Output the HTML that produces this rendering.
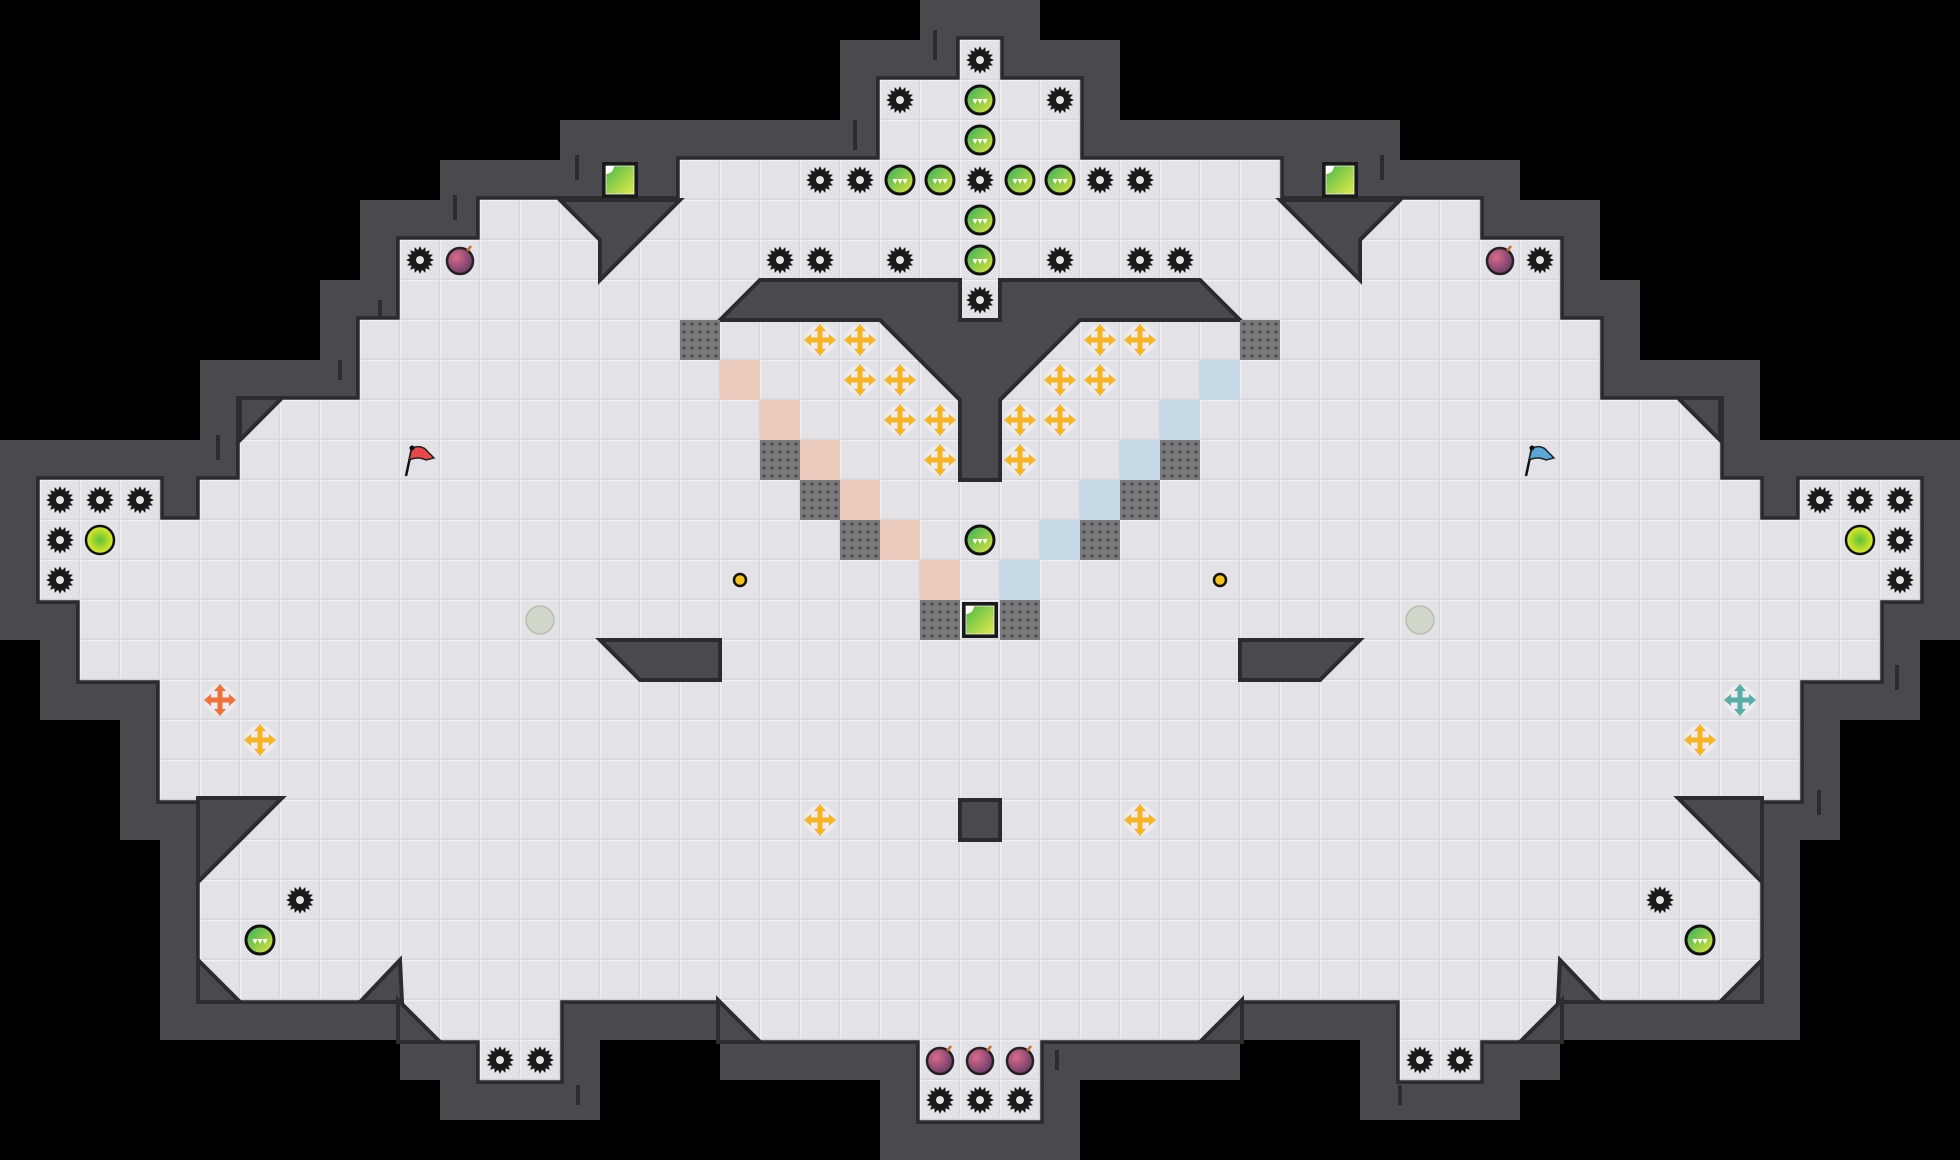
<!DOCTYPE html>
<html><head><meta charset="utf-8">
<style>
html,body{margin:0;padding:0;background:#000;}
svg{display:block;}
</style></head>
<body>
<svg id="s" xmlns="http://www.w3.org/2000/svg" width="1960" height="1160" viewBox="0 0 1960 1160">
<defs>
<linearGradient id="gb" x1="0" y1="0" x2="1" y2="1"><stop offset="0" stop-color="#2fae5a"/><stop offset="1" stop-color="#e6e83a"/></linearGradient>
<linearGradient id="gbox" x1="0" y1="0" x2="1" y2="1"><stop offset="0" stop-color="#4cb848"/><stop offset="1" stop-color="#e0ea4a"/></linearGradient>
<radialGradient id="yb" cx="0.5" cy="0.5" r="0.5"><stop offset="0" stop-color="#5cc040"/><stop offset="1" stop-color="#e4ee20"/></radialGradient>
<radialGradient id="bomb" cx="0.35" cy="0.35" r="0.7"><stop offset="0" stop-color="#d86a8a"/><stop offset="1" stop-color="#6a3a6a"/></radialGradient>
<pattern id="grate" width="8" height="8" patternUnits="userSpaceOnUse"><rect width="8" height="8" fill="#7a7a7c"/><circle cx="4" cy="4" r="1.6" fill="#4a4a4c"/></pattern>
</defs>
<rect width="1960" height="1160" fill="#000"/>
<g id="walls" fill="#4a4a4e"></g>
<g id="outline" fill="#2c2c2f"></g>
<g id="floor"></g>
<g id="inner" fill="#4a4a4e" stroke="#2c2c2f" stroke-width="4" stroke-linejoin="miter"></g>
<g id="items"></g>
</svg>
<script>
const C=40,NS="http://www.w3.org/2000/svg";
function el(p,t,a){const e=document.createElementNS(NS,t);for(const k in a)e.setAttribute(k,a[k]);p.appendChild(e);return e;}
const rows={1:[[24,24]],2:[[22,26]],3:[[22,26]],4:[[17,31]],5:[[12,36]],6:[[10,38]],7:[[10,38]],8:[[9,39]],9:[[9,39]],10:[[6,42]],11:[[6,42]],12:[[1,3],[5,43],[45,47]],13:[[1,47]],14:[[1,47]],15:[[2,46]],16:[[2,46]],17:[[4,44]],18:[[4,44]],19:[[4,44]],20:[[5,43]],21:[[5,43]],22:[[5,43]],23:[[5,43]],24:[[5,43]],25:[[10,13],[18,30],[35,38]],26:[[12,13],[23,25],[35,36]],27:[[23,25]]};
const W=document.getElementById('walls'),O=document.getElementById('outline'),F=document.getElementById('floor'),I=document.getElementById('inner'),IT=document.getElementById('items');
const cells=[];
for(const r in rows)for(const [a,b] of rows[r])for(let c=a;c<=b;c++)cells.push([c,+r]);
cells.concat([[15,4],[33,4]]).forEach(([c,r])=>el(W,'rect',{x:c*C-C,y:r*C-C,width:3*C,height:3*C}));
[[9,26],[17,26],[31,26],[39,26]].forEach(([c,r])=>el(W,'rect',{x:c*C,y:r*C,width:C,height:C,fill:'#000'}));
cells.forEach(([c,r])=>el(O,'rect',{x:c*C-4,y:r*C-4,width:C+8,height:C+8}));
cells.forEach(([c,r])=>{el(F,'rect',{x:c*C,y:r*C,width:C,height:C,fill:'#e3e3e7'});
 el(F,'path',{d:`M${c*C+0.5} ${r*C+C}V${r*C+0.5}H${c*C+C}`,stroke:'#f0f0f3',fill:'none','stroke-width':1.5});
 el(F,'path',{d:`M${c*C+C-0.5} ${r*C}V${r*C+C-0.5}H${c*C}`,stroke:'#cfcfd4',fill:'none','stroke-width':1.5});});
const polys=[
"560,200 680,200 600,280 600,240","1400,200 1280,200 1360,280 1360,240",
"720,320 760,280 960,280 960,320 1000,320 1000,280 1200,280 1240,320 1080,320 1000,400 1000,480 960,480 960,400 880,320",
"600,640 720,640 720,680 640,680","1360,640 1240,640 1240,680 1320,680",
"960,800 1000,800 1000,840 960,840",
"240,398 282,398 240,440","1720,398 1678,398 1720,440",
"198,798 282,798 198,882","1762,798 1678,798 1762,882",
"198,960 240,1002 198,1002","1762,960 1720,1002 1762,1002",
"360,1002 400,960 402,1002","1600,1002 1560,960 1558,1002",
"398,1000 440,1042 398,1042","1562,1000 1520,1042 1562,1042",
"718,1000 760,1042 718,1042","1242,1000 1200,1042 1242,1042"];
polys.forEach(p=>el(I,'polygon',{points:p}));
// wall ticks
[[935,30,935,60],[855,120,855,150],[577,155,577,180],[455,195,455,220],[380,300,380,320],[340,360,340,380],[218,435,218,460],[1025,330,1025,360],[578,1085,578,1105],[1057,1050,1057,1070],[1400,1085,1400,1105],[1897,665,1897,690],[1819,790,1819,815],[1382,155,1382,180]].forEach(t=>el(W,'line',{x1:t[0],y1:t[1],x2:t[2],y2:t[3],stroke:'#2c2c2f','stroke-width':4}));
function cx(c){return c*C+20}
function gear(c,r){let d='',n=16;for(let i=0;i<n*2;i++){const a=i*Math.PI/n,rr=i%2?10:14;d+=(i?'L':'M')+(cx(c)+rr*Math.cos(a)).toFixed(1)+' '+(cx(r)+rr*Math.sin(a)).toFixed(1);}
 el(IT,'path',{d:d+'Z',fill:'#1a1a1a'});el(IT,'circle',{cx:cx(c),cy:cx(r),r:4,fill:'#e3e3e7'});}
function gball(c,r){el(IT,'circle',{cx:cx(c),cy:cx(r),r:14,fill:'url(#gb)',stroke:'#111','stroke-width':3});
 for(let k=-1;k<=1;k++)el(IT,'polygon',{points:`${cx(c)+k*5-2.5},${cx(r)-1} ${cx(c)+k*5+2.5},${cx(r)-1} ${cx(c)+k*5},${cx(r)+4}`,fill:'#fff'});}
function ybig(c,r){el(IT,'circle',{cx:cx(c),cy:cx(r),r:14,fill:'url(#yb)',stroke:'#111','stroke-width':2.5});}
function bomb(c,r){el(IT,'circle',{cx:cx(c),cy:cx(r)+1,r:13,fill:'url(#bomb)',stroke:'#222','stroke-width':2.5});el(IT,'path',{d:`M${cx(c)+7} ${cx(r)-9}l4 -5`,stroke:'#c86a2a','stroke-width':2.5});}
function cross(c,r,col){const x=cx(c),y=cx(r);el(IT,'circle',{cx:x,cy:y,r:15,fill:'#ececee'});
 el(IT,'path',{d:`M${x-12} ${y}H${x+12}M${x} ${y-12}V${y+12}`,stroke:col,'stroke-width':5});
 [[0,-1],[0,1],[-1,0],[1,0]].forEach(([dx,dy])=>{const tx=x+dx*16,ty=y+dy*16;const px=-dy,py=dx;
 el(IT,'polygon',{points:`${tx},${ty} ${tx-dx*7+px*6},${ty-dy*7+py*6} ${tx-dx*7-px*6},${ty-dy*7-py*6}`,fill:col});});}
function box(c,r){el(IT,'rect',{x:c*C+2,y:r*C+2,width:36,height:36,fill:'#1a1a1c'});el(IT,'rect',{x:c*C+6,y:r*C+6,width:28,height:28,fill:'url(#gbox)',stroke:'#eee','stroke-width':0.8});
 el(IT,'path',{d:`M${c*C+6} ${r*C+6}h8a8 8 0 0 1 -8 8z`,fill:'#fff'});}
function grate(c,r){el(IT,'rect',{x:c*C,y:r*C,width:C,height:C,fill:'url(#grate)'});}
function tint(c,r,col){el(IT,'rect',{x:c*C,y:r*C,width:C,height:C,fill:col});}
function flag(c,r,col,tip){const x=c*C+6,y=r*C+4;el(IT,'path',{d:`M${x} ${y+32}L${x+6} ${y+4}`,stroke:'#111','stroke-width':2.5});
 el(IT,'path',{d:`M${x+6} ${y+4}Q${x+16} ${y} ${x+22} ${y+8}L${x+28} ${y+14}L${x+20} ${y+16}Q${x+12} ${y+12} ${x+3} ${y+16}Z`,fill:col,stroke:'#222','stroke-width':1.5});
 el(IT,'circle',{cx:x+6,cy:y+4,r:2.5,fill:'#111'});}
[[18,9],[19,10],[20,11],[21,12],[22,13],[23,14]].forEach(p=>tint(...p,'#ebc9bb'));
[[30,9],[29,10],[28,11],[27,12],[26,13],[25,14]].forEach(p=>tint(...p,'#c4d8e6'));
[[17,8],[19,11],[20,12],[21,13],[23,15],[25,15],[27,13],[28,12],[29,11],[31,8]].forEach(p=>grate(...p));
[[15,4],[33,4],[24,15]].forEach(p=>box(...p));
[[24,1],[22,2],[26,2],[20,4],[21,4],[24,4],[27,4],[28,4],[19,6],[20,6],[22,6],[26,6],[28,6],[29,6],[24,7],[10,6],[38,6],
[1,12],[2,12],[3,12],[45,12],[46,12],[47,12],[1,13],[47,13],[1,14],[47,14],[7,22],[41,22],[12,26],[13,26],[35,26],[36,26],[23,27],[24,27],[25,27]].forEach(p=>gear(...p));
[[24,2],[24,3],[22,4],[23,4],[25,4],[26,4],[24,5],[24,6],[24,13],[6,23],[42,23]].forEach(p=>gball(...p));
[[2,13],[46,13]].forEach(p=>ybig(...p));
[[11,6],[37,6],[23,26],[24,26],[25,26]].forEach(p=>bomb(...p));
[[20,8],[21,8],[27,8],[28,8],[21,9],[22,9],[26,9],[27,9],[22,10],[23,10],[25,10],[26,10],[23,11],[25,11],[6,18],[42,18],[20,20],[28,20]].forEach(p=>cross(...p,'#f7b524'));
cross(5,17,'#f0703a');cross(43,17,'#5aaeaa');
flag(10,11,'#e84848');flag(38,11,'#5aa8d8');
[[13,15],[35,15]].forEach(([c,r])=>el(IT,'circle',{cx:cx(c),cy:cx(r),r:14,fill:'#d0d6c8',stroke:'#b8bfb0','stroke-width':1.5}));
[[18,14],[30,14]].forEach(([c,r])=>el(IT,'circle',{cx:cx(c),cy:cx(r),r:6,fill:'#f6c21a',stroke:'#111','stroke-width':2.5}));
</script>
</body></html>
